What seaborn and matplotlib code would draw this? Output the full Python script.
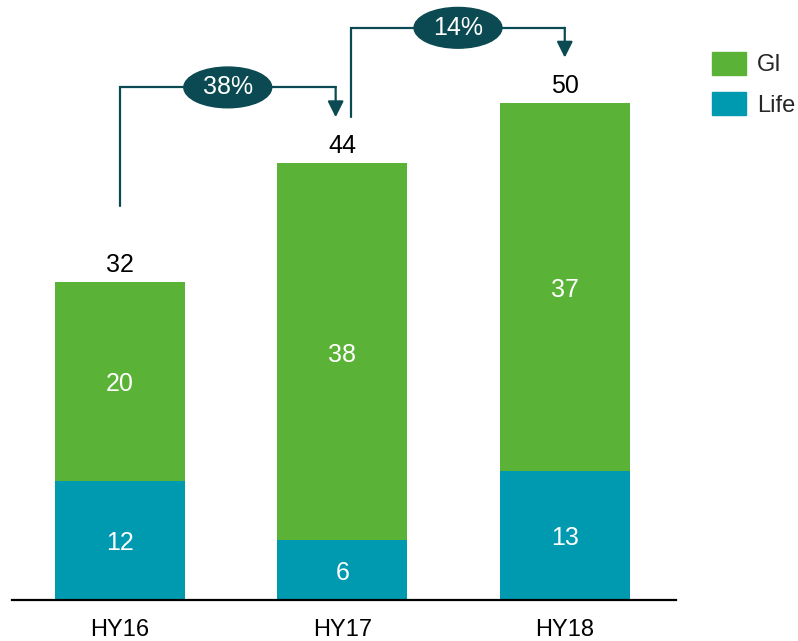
import matplotlib
matplotlib.use("Agg")
import matplotlib.pyplot as plt
from matplotlib.patches import Ellipse, Patch
import seaborn as sns
import pandas as pd

# данные
years = ["HY16", "HY17", "HY18"]
life = [12, 6, 13]
gi = [20, 38, 37]
growth = ["38%", "14%"]

totals = [a + b for a, b in zip(life, gi)]
df = pd.DataFrame({"year": years, "Life": life, "GI": gi, "total": totals})

green = "#5ab337"
teal = "#009ab0"
dark = "#0b4a52"

sns.set_theme(style="white")
plt.rcParams["font.family"] = ["Liberation Sans", "DejaVu Sans"]

fig = plt.figure(figsize=(7.98, 6.41), dpi=100)
ax = fig.add_axes([12 / 798, 41 / 641, 664 / 798, 600 / 641])

# столбцы: сначала суммы (зелёные), поверх Life (бирюзовые)
sns.barplot(data=df, x="year", y="total", color=green, width=0.584, saturation=1, linewidth=0, ax=ax)
sns.barplot(data=df, x="year", y="Life", color=teal, width=0.584, saturation=1, linewidth=0, ax=ax)

ax.set_xlim(-0.485, 2.5)
ax.set_ylim(0, 60.4)
ax.set_xlabel("")
ax.set_ylabel("")
ax.set_yticks([])
for s in ["top", "right", "left"]:
    ax.spines[s].set_visible(False)
ax.spines["bottom"].set_color("black")
ax.spines["bottom"].set_linewidth(1.6)
ax.tick_params(axis="x", length=0, pad=13.5, labelsize=17, colors="black")

# подписи внутри и сверху
for i in range(len(years)):
    ax.text(i, life[i] / 2 - 0.3, str(life[i]), ha="center", va="center", color="white", fontsize=18)
    ax.text(i, life[i] + gi[i] / 2 - 0.3, str(gi[i]), ha="center", va="center", color="white", fontsize=18)
    ax.text(i, totals[i] + 1.7, str(totals[i]), ha="center", va="center", color="black", fontsize=18)

# стрелки роста
starts = [7.7, 4.6]
dx0 = [0.0, 0.04]
dx1 = [-0.03, 0.0]
for i, g in enumerate(growth):
    x0 = i + dx0[i]
    x1 = i + 1 + dx1[i]
    y0 = totals[i] + starts[i]
    ytop = totals[i + 1] + 7.6
    ytip = totals[i + 1] + 4.6
    ax.plot([x0, x0, x1], [y0, ytop, ytop], color=dark, lw=1.6, solid_joinstyle="miter", clip_on=False)
    ax.annotate("", xy=(x1, ytip), xytext=(x1, ytop),
                arrowprops=dict(arrowstyle="-|>", color=dark, lw=1.6, mutation_scale=24, shrinkA=0, shrinkB=0),
                annotation_clip=False)
    xm = (x0 + x1) / 2
    ax.add_patch(Ellipse((xm, ytop), 0.395, 4.1, color=dark, zorder=5, clip_on=False))
    ax.text(xm, ytop, g, ha="center", va="center", color="white", fontsize=18, zorder=6)

# легенда
handles = [Patch(color=green, label="GI"), Patch(color=teal, label="Life")]
fig.legend(handles=handles, loc="upper left", bbox_to_anchor=(712 / 798, 1 - 52 / 641),
           frameon=False, fontsize=17, handlelength=1.45, handleheight=1.1,
           handletextpad=0.45, labelspacing=0.68, borderpad=0, borderaxespad=0)

plt.savefig("out.png", dpi=100)
